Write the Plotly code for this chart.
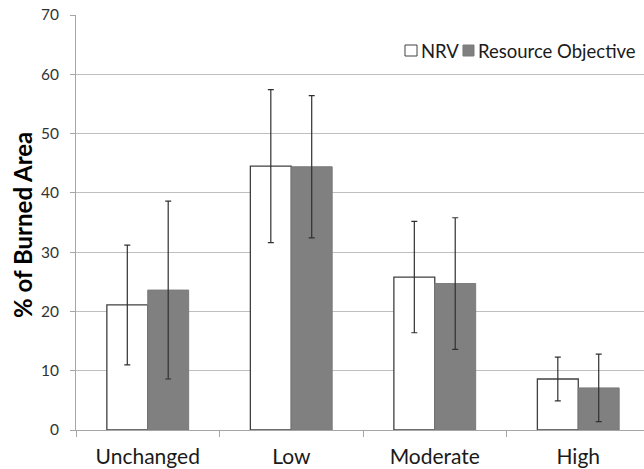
import plotly.graph_objects as go

categories = ["Unchanged", "Low", "Moderate", "High"]
nrv_values = [21.1, 44.5, 25.8, 8.6]
nrv_errors = [10.1, 12.9, 9.4, 3.7]
ro_values = [23.6, 44.4, 24.7, 7.1]
ro_errors = [15.0, 12.0, 11.1, 5.7]
y_ticks = [0, 10, 20, 30, 40, 50, 60, 70]
series_names = ["NRV", "Resource Objective"]

font_family = "Lato, 'Open Sans', sans-serif"
nrv_fill, nrv_line = "white", "#404040"
ro_fill, ro_line = "#808080", "#7a7a7a"

fig = go.Figure()
fig.add_trace(go.Bar(
    name=series_names[0], x=categories, y=nrv_values,
    marker=dict(color=nrv_fill, line=dict(color=nrv_line, width=1.3)),
    error_y=dict(type="data", array=nrv_errors, visible=True,
                 color="#303030", thickness=1.2, width=3),
))
fig.add_trace(go.Bar(
    name=series_names[1], x=categories, y=ro_values,
    marker=dict(color=ro_fill, line=dict(color=ro_line, width=1)),
    error_y=dict(type="data", array=ro_errors, visible=True,
                 color="#303030", thickness=1.2, width=3),
))

# custom legend (paper coordinates)
fig.add_shape(type="rect", xref="paper", yref="paper",
              x0=0.5792, x1=0.6004, y0=0.9012, y1=0.9277,
              fillcolor=nrv_fill, line=dict(color=nrv_line, width=1))
fig.add_shape(type="rect", xref="paper", yref="paper",
              x0=0.6813, x1=0.7007, y0=0.9012, y1=0.9277,
              fillcolor=ro_fill, line=dict(color=ro_line, width=1))
fig.add_annotation(text=series_names[0], xref="paper", yref="paper",
                   x=0.6040, y=0.9133, xanchor="left", yanchor="middle",
                   showarrow=False, font=dict(size=18.5, color="#1a1a1a"))
fig.add_annotation(text=series_names[1], xref="paper", yref="paper",
                   x=0.7045, y=0.9133, xanchor="left", yanchor="middle",
                   showarrow=False, font=dict(size=18.5, color="#1a1a1a"))
# y-axis title
fig.add_annotation(text="<b>% of Burned Area</b>", xref="paper", yref="paper",
                   x=-0.0933, y=0.494, xanchor="center", yanchor="middle",
                   textangle=-90, showarrow=False,
                   font=dict(size=24, color="#000000"))

fig.update_layout(
    width=644, height=469,
    margin=dict(l=76, r=0, t=15, b=39),
    paper_bgcolor="white", plot_bgcolor="white",
    barmode="group", bargap=0.43, bargroupgap=0,
    font=dict(family=font_family, color="#262626"),
    showlegend=False,
)
fig.update_xaxes(
    range=[-0.5, 3.458], showgrid=False, automargin=False,
    showline=True, linecolor="#a6a6a6", linewidth=1,
    ticks="outside", tickson="boundaries", ticklen=6, tickcolor="#a6a6a6",
    ticklabelstandoff=8,
    tickfont=dict(size=21, color="#1a1a1a"),
)
fig.update_yaxes(
    range=[0, 70], tickvals=y_ticks, automargin=False,
    showgrid=True, gridcolor="#bfbfbf", gridwidth=1,
    showline=True, linecolor="#a6a6a6", linewidth=1,
    ticks="outside", ticklen=5, tickcolor="#a6a6a6", ticklabelstandoff=8,
    ticklabeloverflow="allow",
    tickfont=dict(size=15.5, color="#333333"),
    zeroline=False,
)

fig.write_html("out.html",
               config={"displayModeBar": False},
               post_script="document.body.style.margin='0px';document.body.style.overflow='hidden';")
